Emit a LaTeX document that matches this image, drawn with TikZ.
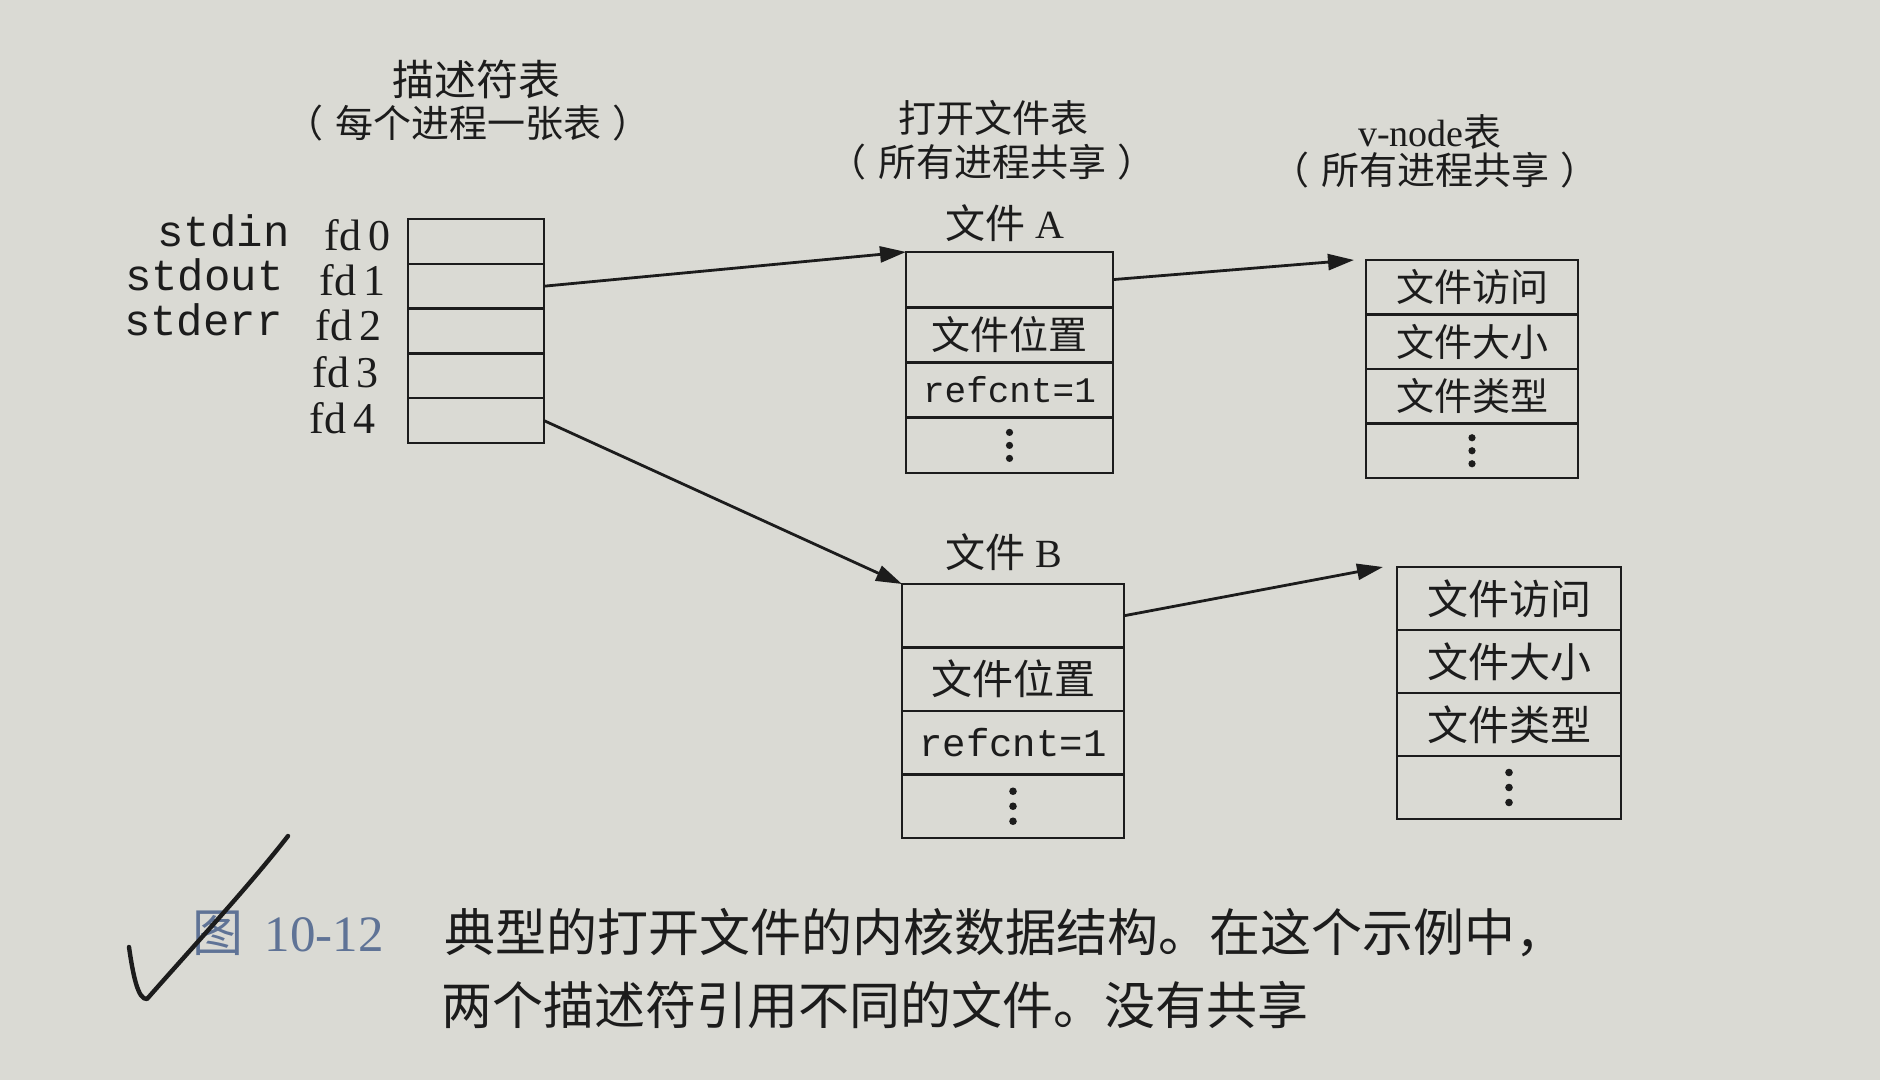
\documentclass[tikz,border=0pt]{standalone}
\usepackage{fontspec}
\setmainfont{Liberation Serif}
\setmonofont{Liberation Mono}
\newfontfamily\cjk{Noto Sans CJK SC}
\usetikzlibrary{arrows.meta}
\definecolor{paper}{RGB}{218,218,212}
\definecolor{ink}{RGB}{28,28,28}
\definecolor{figblue}{RGB}{95,115,150}
\newcommand{\fsz}[1]{\fontsize{#1}{#1}\selectfont}
\newcommand{\lp}{（\hspace{0.3em}}
\newcommand{\rp}{\hspace{0.3em}）}
\begin{document}
\begin{tikzpicture}[x=0.5pt,y=-0.5pt,
  cell/.style={draw=ink, line width=1.25pt, inner sep=0pt, outer sep=0pt, text=ink},
  dcell/.style={cell, minimum width=68pt, minimum height=22.4pt},
  acell/.style={cell, minimum width=103.5pt, minimum height=27.625pt},
  vacell/.style={cell, minimum width=106pt, minimum height=27.25pt},
  bcell/.style={cell, minimum width=111pt, minimum height=31.75pt},
  vbcell/.style={cell, minimum width=112pt, minimum height=31.5pt},
  title/.style={text=ink, inner sep=0pt, font=\fsz{19}\cjk},
  lbl/.style={text=ink, inner sep=0pt, anchor=east},
  link/.style={draw=ink, line width=1.4pt, -{Triangle[length=13pt,width=8pt]}},
  dot/.style={fill=ink}
]
\fill[paper] (0,0) rectangle (1880,1080);
\useasboundingbox (0,0) rectangle (1880,1080);

% titles
\node[title, font=\fsz{21}\cjk] (t1) at (476,79) {描述符表};
\node[title] (t1b) at (468,123) {\lp 每个进程一张表\rp};
\node[title] (t2) at (993,118) {打开文件表};
\node[title] (t2b) at (992,162) {\lp 所有进程共享\rp};
\node[title, font=\fsz{19}] (t3) at (1430,132) {v-node{\cjk 表}};
\node[title] (t3b) at (1435,170) {\lp 所有进程共享\rp};
\node[title, font=\fsz{20}] (fa) at (1005,223) {{\cjk 文件} A};
\node[title, font=\fsz{20}] (fb) at (1004,552) {{\cjk 文件} B};

% descriptor table
\node[dcell] (d0) at (476,241.4) {};
\node[dcell] (d1) at (476,286.2) {};
\node[dcell] (d2) at (476,331) {};
\node[dcell] (d3) at (476,375.8) {};
\node[dcell] (d4) at (476,420.6) {};

\node[lbl, font=\fsz{22}] (f0) at (391,235) {fd\,0};
\node[lbl, font=\fsz{22}] (f1) at (386,280) {fd\,1};
\node[lbl, font=\fsz{22}] (f2) at (382,325) {fd\,2};
\node[lbl, font=\fsz{22}] (f3) at (379,372) {fd\,3};
\node[lbl, font=\fsz{22}] (f4) at (376,418) {fd\,4};
\node[lbl, font=\fsz{22}\ttfamily] (s0) at (290,231) {stdin};
\node[lbl, font=\fsz{22}\ttfamily] (s1) at (284,275) {stdout};
\node[lbl, font=\fsz{22}\ttfamily] (s2) at (283,320) {stderr};

% open file table A
\node[acell] (a0) at (1009.5,279.6) {};
\node[acell, font=\fsz{19.5}\cjk] (a1) at (1009.5,334.9) {文件位置};
\node[acell, font=\fsz{18}\ttfamily] (a2) at (1009.5,390.1) {refcnt=1};
\node[acell] (a3) at (1009.5,445.4) {};

% v-node table A
\node[vacell, font=\fsz{19}\cjk] (va0) at (1472,287.25) {文件访问};
\node[vacell, font=\fsz{19}\cjk] (va1) at (1472,341.75) {文件大小};
\node[vacell, font=\fsz{19}\cjk] (va2) at (1472,396.25) {文件类型};
\node[vacell] (va3) at (1472,450.75) {};

% open file table B
\node[bcell] (b0) at (1013,615.75) {};
\node[bcell, font=\fsz{20.5}\cjk] (b1) at (1013,679.25) {文件位置};
\node[bcell, font=\fsz{19.5}\ttfamily] (b2) at (1013,742.75) {refcnt=1};
\node[bcell] (b3) at (1013,806.25) {};

% v-node table B
\node[vbcell, font=\fsz{20.5}\cjk] (vb0) at (1509,598.5) {文件访问};
\node[vbcell, font=\fsz{20.5}\cjk] (vb1) at (1509,661.5) {文件大小};
\node[vbcell, font=\fsz{20.5}\cjk] (vb2) at (1509,724.5) {文件类型};
\node[vbcell] (vb3) at (1509,787.5) {};

% vertical ellipsis dots
\foreach \c in {a3,va3} {
  \fill[dot] (\c.center) +(0,-13) circle (1.8pt) +(0,0) circle (1.8pt) +(0,13) circle (1.8pt);
}
\foreach \c in {b3,vb3} {
  \fill[dot] (\c.center) +(0,-15) circle (1.9pt) +(0,0) circle (1.9pt) +(0,15) circle (1.9pt);
}

% connectors
\draw[link] (d1.east) -- (a0.north west);
\draw[link] (a0.east) -- ([xshift=-6pt]va0.north west);
\draw[link] (d4.east) -- (b0.north west);
\draw[link] (b0.east) -- ([xshift=-7pt]vb0.north west);

% caption
\node[anchor=west, inner sep=0pt, text=figblue, font=\fsz{25.5}] (cap0) at (192,933) {{\cjk 图}\ \,10-12};
\node[anchor=west, inner sep=0pt, text=ink, font=\fsz{25.5}\cjk] (cap1) at (444,933) {典型的打开文件的内核数据结构。在这个示例中，};
\node[anchor=west, inner sep=0pt, text=ink, font=\fsz{25.5}\cjk] (cap2) at (441,1005) {两个描述符引用不同的文件。没有共享};

% handwritten check mark
\draw[ink, line width=2.2pt, line cap=round, line join=round]
  (129,947) .. controls (133,975) and (138,1000) .. (147,999)
  .. controls (190,950) and (250,885) .. (288,836);
\end{tikzpicture}
\end{document}
